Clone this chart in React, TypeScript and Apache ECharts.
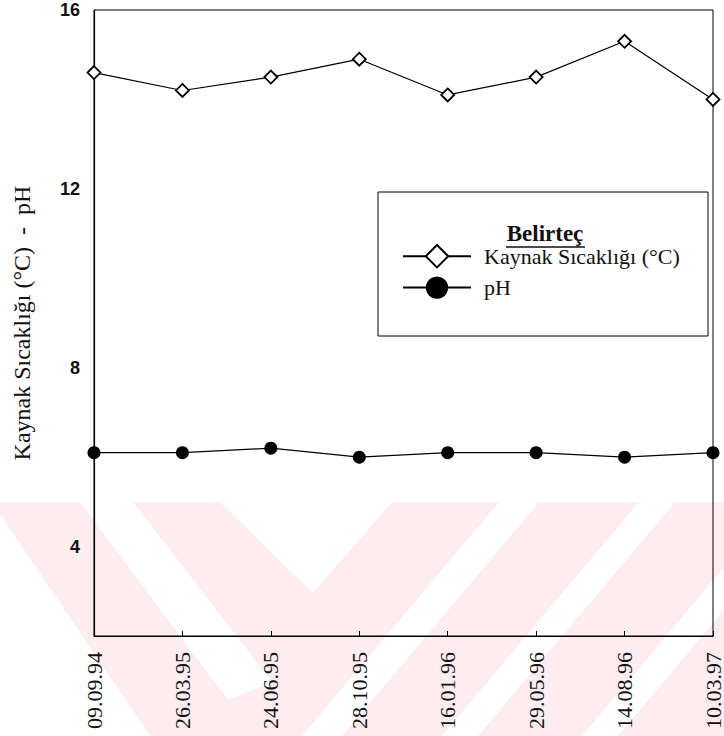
import React, { useEffect, useRef } from "react";
import * as echarts from "echarts";

const dates = ["09.09.94", "26.03.95", "24.06.95", "28.10.95", "16.01.96", "29.05.96", "14.08.96", "10.03.97"];
const temperature = [14.6, 14.2, 14.5, 14.9, 14.1, 14.5, 15.3, 14.0];
const ph = [6.1, 6.1, 6.2, 6.0, 6.1, 6.1, 6.0, 6.1];
const yLabels = [4, 8, 12, 16];
const seriesNames = ["Kaynak Sıcaklığı (°C)", "pH"];
const legendTitle = "Belirteç";
const yName = "Kaynak Sıcaklığı (°C)  -  pH";

const PINK = "#fdecf0";
const serif = "Liberation Serif";

export default function App() {
  const ref = useRef<HTMLDivElement>(null);
  useEffect(() => {
    if (!ref.current) return;
    const chart = echarts.init(ref.current, null, { renderer: "svg" });
    const wm = (points: number[][], fill: string) => ({
      type: "polygon",
      z: -10,
      silent: true,
      shape: { points },
      style: { fill },
    });
    chart.setOption({
      animation: false,
      backgroundColor: "#fff",
      grid: {
        left: 94,
        right: 5,
        top: 10,
        bottom: 100,
        show: true,
        borderColor: "#000",
        borderWidth: 1,
        backgroundColor: "transparent",
      },
      xAxis: {
        type: "category",
        data: dates,
        boundaryGap: false,
        axisLine: { lineStyle: { color: "#000", width: 1.2 } },
        axisTick: { inside: true, length: 5, lineStyle: { color: "#000" } },
        axisLabel: {
          rotate: 90,
          margin: 16,
          color: "#111",
          fontFamily: serif,
          fontSize: 22,
          interval: 0,
        },
        splitLine: { show: false },
      },
      yAxis: {
        type: "value",
        min: 2,
        max: 16,
        interval: 2,
        name: yName,
        nameLocation: "middle",
        nameGap: 60,
        nameTextStyle: { fontFamily: serif, fontSize: 24, color: "#111" },
        axisLine: { show: true, lineStyle: { color: "#000", width: 1.2 } },
        axisTick: { inside: true, length: 6, lineStyle: { color: "#000" } },
        axisLabel: {
          margin: 14,
          color: "#111",
          fontFamily: "Liberation Sans",
          fontWeight: "bold",
          fontSize: 18,
          formatter: (v: number) => (yLabels.includes(v) ? String(v) : ""),
        },
        splitLine: { show: false },
      },
      legend: {
        z: 20,
        orient: "vertical",
        left: 402,
        top: 244,
        padding: 0,
        itemWidth: 68,
        itemHeight: 28,
        itemGap: 8,
        textStyle: {
          fontFamily: serif,
          fontSize: 22,
          color: "#111",
          padding: [0, 0, 0, 8],
        },
        data: seriesNames,
      },
      graphic: [
        { type: "rect", z: -10, silent: true, shape: { x: 0, y: 502, width: 724, height: 234 }, style: { fill: PINK } },
        wm([[0, 514], [150, 736], [0, 736]], "#fff"),
        wm([[80, 502], [133, 502], [272, 682], [228, 700]], "#fff"),
        wm([[220, 502], [392, 502], [313, 593]], "#fff"),
        wm([[499, 502], [539, 502], [342, 736], [302, 736]], "#fff"),
        wm([[639, 502], [675, 502], [478, 736], [442, 736]], "#fff"),
        wm([[779, 502], [815, 502], [618, 736], [582, 736]], "#fff"),
        {
          type: "rect",
          z: 1,
          silent: true,
          shape: { x: 378, y: 192, width: 330, height: 144 },
          style: { fill: "#fff", stroke: "#000", lineWidth: 1 },
        },
        {
          type: "text",
          z: 6,
          x: 545,
          y: 233,
          style: {
            text: legendTitle,
            fontFamily: serif,
            fontWeight: "bold",
            fontSize: 23,
            fill: "#111",
            align: "center",
            verticalAlign: "middle",
          },
        },
        {
          type: "line",
          z: 6,
          shape: { x1: 506, y1: 247, x2: 585, y2: 247 },
          style: { stroke: "#111", lineWidth: 1.5 },
        },
      ],
      series: [
        {
          name: seriesNames[0],
          type: "line",
          data: temperature,
          symbol: "diamond",
          symbolSize: [13, 13],
          z: 3,
          lineStyle: { color: "#000", width: 1.2 },
          itemStyle: { color: "#fff", borderColor: "#000", borderWidth: 1.8 },
        },
        {
          name: seriesNames[1],
          type: "line",
          data: ph,
          symbol: "circle",
          symbolSize: 13,
          z: 3,
          lineStyle: { color: "#000", width: 1.2 },
          itemStyle: { color: "#000", borderColor: "#000", borderWidth: 0 },
        },
      ],
    });
    return () => chart.dispose();
  }, []);
  return <div ref={ref} style={{ width: 724, height: 736, position: "absolute", left: 0, top: 0 }} />;
}
